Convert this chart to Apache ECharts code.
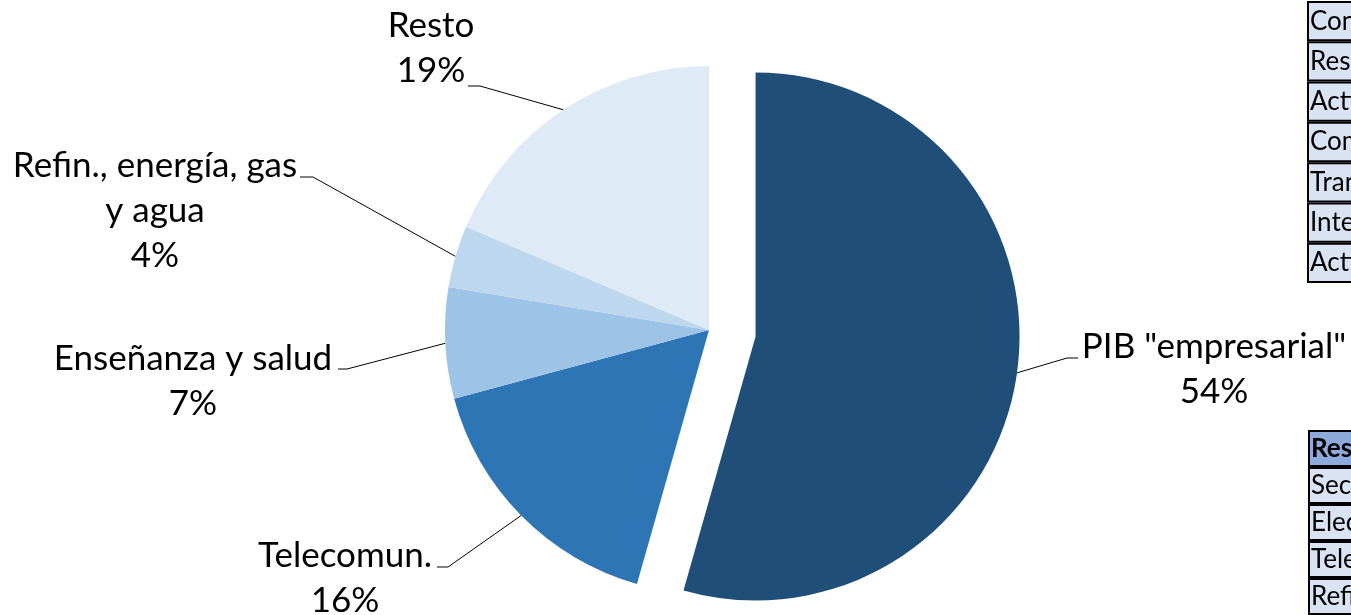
<!DOCTYPE html>
<html lang="es">
<head>
<meta charset="UTF-8" />
<title>PIB por sectores</title>
<script src="https://cdn.jsdelivr.net/npm/echarts@6.0.0/dist/echarts.min.js"></script>
<style>
    html,
    body {
        margin: 0;
        padding: 0;
        width: 100%;
        height: 100%;
        overflow: hidden;
        background: #fff;
    }
    #main {
        width: 1351px;
        height: 615px;
    }
</style>
</head>
<body>
<div id="main"></div>
<script>
    // datos del gráfico (en % del total)
    const sectorNames = ['PIB "empresarial"', "Telecomun.", "Enseñanza y salud", "Refin., energía, gas\ny agua", "Resto"]
    const sectorValues = [54.4, 16.4, 6.8, 3.8, 18.6]

    // filas de las tablas de la derecha (cortadas por el borde)
    const topTableRows = [
        "Construcción",
        "Resto de servicios",
        "Actividades inmobiliarias",
        "Comercio",
        "Transporte",
        "Intermediación financiera",
        "Actividades profesionales",
    ]
    const bottomTableRows = ["Resto", "Sector público", "Electricidad", "Telecomunicaciones", "Refino"]

    const sectorColors = ["#1f4e79", "#2e75b6", "#9dc3e6", "#bdd7ee", "#deebf7"]
    const FONT = "Lato, 'Noto Sans', sans-serif"

    // posición de las etiquetas: centro x, y superior, codo y final de la línea guía
    const labelPos = [
        { x: 1214, y: 324, bend: [1067, 358], end: [1078, 358] },
        { x: 345, y: 533, bend: [448, 567], end: [437, 567] },
        { x: 193, y: 336, bend: [347, 369], end: [338, 369] },
        { x: 155, y: 143, bend: [313, 177], end: [300, 177] },
        { x: 431, y: 3, bend: [480, 86], end: [468, 86] },
    ]

    const chart = echarts.init(document.getElementById("main"))

    const total = sectorValues.reduce((a, b) => a + b, 0)
    const center = [709, 330]
    const radius = 264
    const explode = 47
    // el sector "empresarial" sale desplazado sobre su ángulo medio
    const mid = (sectorValues[0] / total) * Math.PI
    const centerPib = [center[0] + explode * Math.sin(mid), center[1] - explode * Math.cos(mid)]

    function pieData(visibleFn) {
        return sectorNames.map((name, i) => {
            const visible = visibleFn(i)
            return {
                name: name,
                value: sectorValues[i],
                itemStyle: { color: sectorColors[i], opacity: visible ? 1 : 0 },
                label: { show: visible },
                labelLine: { show: visible },
            }
        })
    }

    function layoutLabel(params) {
        const p = labelPos[params.dataIndex]
        if (!params.labelLinePoints) return {}
        return {
            x: p.x,
            y: p.y,
            align: "center",
            verticalAlign: "top",
            labelLinePoints: [params.labelLinePoints[0], p.bend, p.end],
        }
    }

    const pieCommon = {
        type: "pie",
        radius: radius,
        startAngle: 90,
        clockwise: true,
        silent: true,
        animation: false,
        avoidLabelOverlap: false,
        label: {
            position: "outside",
            color: "#000",
            fontFamily: FONT,
            fontSize: 35,
            lineHeight: 45,
            formatter: (p) => p.name + "\n" + Math.round(p.percent) + "%",
        },
        labelLine: { lineStyle: { color: "#000", width: 1 }, length: 10, length2: 10 },
        itemStyle: { borderWidth: 0 },
        labelLayout: layoutLabel,
    }

    function tableSeries(idx, rows, boldFirst) {
        return {
            type: "bar",
            xAxisIndex: idx,
            yAxisIndex: idx,
            silent: true,
            animation: false,
            barCategoryGap: 0,
            data: rows.map((r, i) => ({
                value: 1,
                itemStyle: { color: boldFirst && i === 0 ? "#8eaadb" : "#dae3f3" },
                label: { fontWeight: boldFirst && i === 0 ? "bold" : "normal" },
            })),
            itemStyle: { borderColor: "#000", borderWidth: 2 },
            label: {
                show: true,
                position: "insideLeft",
                distance: 3,
                color: "#000",
                fontFamily: FONT,
                fontSize: 26,
                formatter: (p) => p.name,
            },
        }
    }

    const option = {
        backgroundColor: "#fff",
        grid: [
            { left: 1307, top: 1, width: 300, height: 282 },
            { left: 1308, top: 430, width: 300, height: 191.5 },
        ],
        xAxis: [
            { type: "value", gridIndex: 0, min: 0, max: 1, show: false },
            { type: "value", gridIndex: 1, min: 0, max: 1, show: false },
        ],
        yAxis: [
            { type: "category", gridIndex: 0, inverse: true, data: topTableRows, show: false },
            { type: "category", gridIndex: 1, inverse: true, data: bottomTableRows, show: false },
        ],
        series: [
            Object.assign({}, pieCommon, { center: center, data: pieData((i) => i !== 0) }),
            Object.assign({}, pieCommon, { center: centerPib, data: pieData((i) => i === 0) }),
            tableSeries(0, topTableRows, false),
            tableSeries(1, bottomTableRows, true),
        ],
    }
    chart.setOption(option)
</script>
</body>
</html>
